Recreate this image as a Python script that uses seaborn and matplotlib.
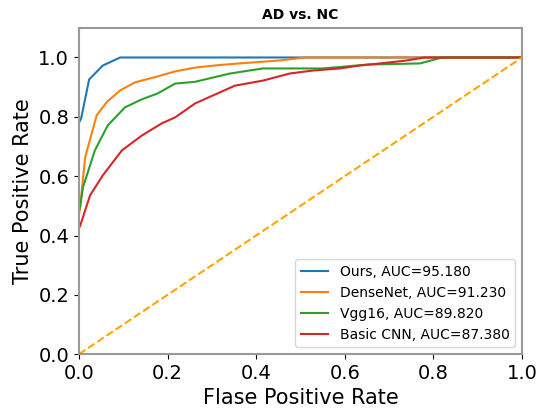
import pandas as pd
import matplotlib
matplotlib.use('Agg')
import matplotlib.pyplot as plt
import seaborn as sns

# ROC points
ours_fpr = [0.0, 0.005, 0.023, 0.054, 0.093, 0.3, 0.6, 1.0]
ours_tpr = [0.78, 0.795, 0.926, 0.973, 1.0, 1.0, 1.0, 1.0]

dense_fpr = [0.0, 0.003, 0.014, 0.04, 0.063, 0.093, 0.126, 0.17, 0.217, 0.262,
             0.32, 0.38, 0.454, 0.51, 0.7, 1.0]
dense_tpr = [0.47, 0.5, 0.663, 0.805, 0.85, 0.889, 0.916, 0.933, 0.953, 0.966,
             0.975, 0.982, 0.99, 1.0, 1.0, 1.0]

vgg_fpr = [0.0, 0.003, 0.009, 0.036, 0.065, 0.104, 0.142, 0.178, 0.217, 0.262,
           0.341, 0.415, 0.55, 0.605, 0.65, 0.77, 0.82, 1.0]
vgg_tpr = [0.48, 0.5, 0.562, 0.687, 0.771, 0.832, 0.859, 0.879, 0.912, 0.918,
           0.946, 0.963, 0.963, 0.97, 0.976, 0.98, 1.0, 1.0]

cnn_fpr = [0.0, 0.003, 0.025, 0.054, 0.097, 0.142, 0.187, 0.217, 0.262, 0.352,
           0.415, 0.476, 0.528, 0.589, 0.634, 0.68, 0.74, 0.78, 1.0]
cnn_tpr = [0.425, 0.434, 0.535, 0.603, 0.687, 0.737, 0.778, 0.798, 0.845, 0.905,
           0.922, 0.946, 0.956, 0.963, 0.973, 0.98, 0.99, 1.0, 1.0]

labels = ['Ours, AUC=95.180', 'DenseNet, AUC=91.230',
          'Vgg16, AUC=89.820', 'Basic CNN, AUC=87.380']

frames = []
for name, fpr, tpr in zip(labels, [ours_fpr, dense_fpr, vgg_fpr, cnn_fpr],
                          [ours_tpr, dense_tpr, vgg_tpr, cnn_tpr]):
    frames.append(pd.DataFrame({'FPR': fpr, 'TPR': tpr, 'Model': name}))
df = pd.concat(frames, ignore_index=True)

fig = plt.figure(figsize=(5.37, 4.09), dpi=100)
ax = fig.add_axes([0.147, 0.134, 0.825, 0.798])
sns.lineplot(data=df, x='FPR', y='TPR', hue='Model', palette='tab10',
             estimator=None, sort=False, linewidth=1.5, ax=ax)
ax.plot([0, 1], [0, 1], color='orange', linestyle='--', linewidth=1.5)

ax.set_xlim(0, 1.0)
ax.set_ylim(0, 1.1)
ax.set_xticks([0, 0.2, 0.4, 0.6, 0.8, 1.0])
ax.set_yticks([0, 0.2, 0.4, 0.6, 0.8, 1.0])
ax.tick_params(labelsize=14)
ax.set_xlabel('Flase Positive Rate', fontsize=15)
ax.set_ylabel('True Positive Rate', fontsize=15)
ax.set_title('AD vs. NC', fontsize=10, fontweight='bold')
for s in ax.spines.values():
    s.set_color('#999999')
    s.set_linewidth(1.5)
ax.legend(loc='lower right', fontsize=10)
plt.savefig('out.png', dpi=100)
